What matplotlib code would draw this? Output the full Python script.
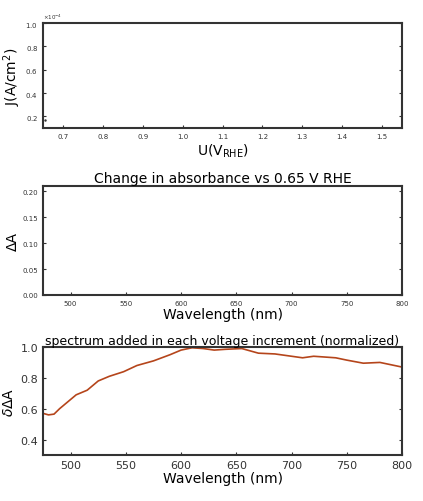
import numpy as np
import matplotlib.pyplot as plt

# top panel: current density vs potential (single point)
volt = [0.655]
cur = [0.17e-4]

# bottom panel: normalized spectrum added per voltage increment
wl = [475, 480, 485, 490, 500, 505, 515, 525, 535, 548, 560, 575, 590, 600,
      610, 620, 630, 640, 655, 660, 670, 685, 700, 710, 720, 740, 750, 765,
      780, 790, 800]
dA = [0.57, 0.56, 0.565, 0.60, 0.66, 0.69, 0.72, 0.78, 0.81, 0.84, 0.88, 0.91,
      0.95, 0.98, 0.995, 0.99, 0.98, 0.985, 0.99, 0.98, 0.96, 0.955, 0.94, 0.93,
      0.94, 0.93, 0.915, 0.895, 0.90, 0.885, 0.87]

fig = plt.figure(figsize=(4.23, 5.02), dpi=100)
W, H = 423, 502
def box(x0, y0, x1, y1):
    return [x0 / W, 1 - y1 / H, (x1 - x0) / W, (y1 - y0) / H]

ax1 = fig.add_axes(box(43, 24, 402, 129))
ax2 = fig.add_axes(box(43, 187, 402, 296))
ax3 = fig.add_axes(box(43, 348, 402, 456))

for ax in (ax1, ax2, ax3):
    for s in ax.spines.values():
        s.set_linewidth(1.5)
        s.set_color('#333333')
    ax.tick_params(direction='in', length=2, right=True, top=False, colors='#333333')

ax1.plot(volt, cur, '.', color='#333333', markersize=1.5)
ax1.set_xlim(0.65, 1.55)
ax1.set_ylim(0.1e-4, 1.0e-4)
ax1.set_xticks(np.arange(0.7, 1.51, 0.1))
ax1.set_yticks(np.arange(0.2e-4, 1.01e-4, 0.2e-4))
ax1.ticklabel_format(axis='y', style='sci', scilimits=(0, 0), useMathText=True)
ax1.yaxis.get_offset_text().set_fontsize(4)
ax1.tick_params(labelsize=5)
ax1.set_ylabel('J(A/cm$^2$)', fontsize=10, labelpad=2)
ax1.set_xlabel('U(V$_{\\mathrm{RHE}}$)', fontsize=10, labelpad=2)

ax2.set_xlim(475, 800)
ax2.set_ylim(0, 0.21)
ax2.set_xticks(range(500, 801, 50))
ax2.set_yticks(np.arange(0, 0.201, 0.05))
ax2.tick_params(labelsize=5)
ax2.set_ylabel('ΔA', fontsize=10, labelpad=2)
ax2.set_xlabel('Wavelength (nm)', fontsize=10, labelpad=1)
ax2.set_title('Change in absorbance vs 0.65 V RHE', fontsize=10, pad=3)

ax3.plot(wl, dA, color='#b5451b', linewidth=1.2)
ax3.set_xlim(475, 800)
ax3.set_ylim(0.3, 1.0)
ax3.set_xticks(range(500, 801, 50))
ax3.set_yticks([0.4, 0.6, 0.8, 1.0])
ax3.tick_params(labelsize=8)
ax3.set_ylabel('$\\overline{\\delta\\Delta \\mathrm{A}}$', fontsize=10, labelpad=2)
ax3.set_xlabel('Wavelength (nm)', fontsize=10, labelpad=1)
ax3.set_title('spectrum added in each voltage increment (normalized)', fontsize=9, pad=2)

fig.savefig('out.png', dpi=100)
